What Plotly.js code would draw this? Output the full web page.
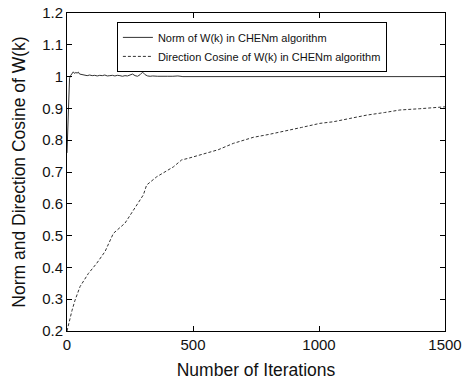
<!DOCTYPE html>
<html>
<head>
<meta charset="utf-8">
<script src="https://cdn.plot.ly/plotly-3.0.1.min.js"></script>
<style>
  html, body { margin: 0; padding: 0; background: #fff; }
  #chart { width: 463px; height: 380px; }
</style>
</head>
<body>
<div id="chart"></div>
<script>
// Norm of W(k) over the iterations
const normIter = [0, 3, 6, 10, 15, 20, 25, 30, 35, 40, 45, 50, 60, 70, 80, 90, 100, 110, 120, 130,
  140, 150, 160, 170, 180, 190, 200, 210, 220, 230, 240, 250, 260, 270, 280, 290, 300, 310,
  320, 330, 340, 360, 380, 400, 420, 440, 460, 500, 600, 650, 700, 800, 1000, 1200, 1500];
const normValue = [0.76, 0.86, 0.95, 0.995, 1.004, 1.012, 1.015, 1.01, 1.013, 1.011, 1.014, 1.008,
  1.006, 1.004, 1.003, 1.005, 1.003, 1.004, 1.002, 1.004, 1.003, 1.005, 1.002, 1.003, 1.004,
  1.002, 1.004, 1.003, 1.001, 1.003, 1.002, 1.005, 1.008, 1.003, 1.001, 1.006, 1.014, 1.006,
  1.002, 1.001, 1.002, 1.001, 1.0, 1.001, 1.001, 1.002, 1.0, 1.0, 1.001, 1.0, 1.001, 1.0,
  1.0, 1.0, 1.0];

// Direction cosine of W(k) over the iterations
const cosIter = [0, 10, 20, 32, 52, 85, 118, 151, 184, 230, 263, 303, 316, 356, 422, 455, 481,
  528, 600, 660, 739, 800, 858, 930, 1004, 1057, 1120, 1190, 1260, 1321, 1400, 1460, 1500];
const cosValue = [0.2, 0.235, 0.265, 0.297, 0.34, 0.381, 0.413, 0.45, 0.507, 0.539, 0.58, 0.628,
  0.659, 0.685, 0.716, 0.738, 0.743, 0.753, 0.77, 0.79, 0.809, 0.818, 0.827, 0.84, 0.853,
  0.858, 0.868, 0.879, 0.887, 0.895, 0.899, 0.903, 0.905];

const seriesNames = [
  'Norm of W(k) in CHENm algorithm',
  'Direction Cosine of W(k) in CHENm algorithm'
];
const xTicks = [0, 500, 1000, 1500];
const yTicks = [0.2, 0.3, 0.4, 0.5, 0.6, 0.7, 0.8, 0.9, 1, 1.1, 1.2];

const FONT = 'Liberation Sans, Arial, Helvetica, sans-serif';

const traces = [
  {
    x: normIter, y: normValue, type: 'scatter', mode: 'lines',
    name: seriesNames[0],
    line: { color: '#333333', width: 1, dash: 'solid' }
  },
  {
    x: cosIter, y: cosValue, type: 'scatter', mode: 'lines',
    name: seriesNames[1],
    line: { color: '#333333', width: 1, dash: '3px,2px' }
  }
];

const axisBase = {
  showgrid: false, zeroline: false,
  showline: true, linecolor: '#000', linewidth: 1, mirror: 'allticks',
  ticks: 'inside', ticklen: 5, tickcolor: '#000', tickwidth: 1,
  tickfont: { family: FONT, size: 15, color: '#111' }
};

const layout = {
  width: 463, height: 380,
  margin: { l: 67, r: 18, t: 13, b: 49 },
  paper_bgcolor: '#fff', plot_bgcolor: '#fff',
  font: { family: FONT, color: '#111' },
  showlegend: true,
  legend: {
    x: 0.132, y: 0.972, xanchor: 'left', yanchor: 'top',
    bgcolor: '#fff', bordercolor: '#000', borderwidth: 1,
    font: { family: FONT, size: 11, color: '#111' },
    tracegroupgap: 0
  },
  xaxis: Object.assign({}, axisBase, {
    range: [0, 1500], tickvals: xTicks,
    title: { text: 'Number of Iterations', font: { family: FONT, size: 17.5, color: '#111' }, standoff: 11 }
  }),
  yaxis: Object.assign({}, axisBase, {
    range: [0.2, 1.2], tickvals: yTicks,
    title: { text: 'Norm and Direction Cosine of W(k)', font: { family: FONT, size: 17.5, color: '#111' }, standoff: 12 }
  })
};

Plotly.newPlot('chart', traces, layout, { displayModeBar: false, staticPlot: true });
</script>
</body>
</html>
